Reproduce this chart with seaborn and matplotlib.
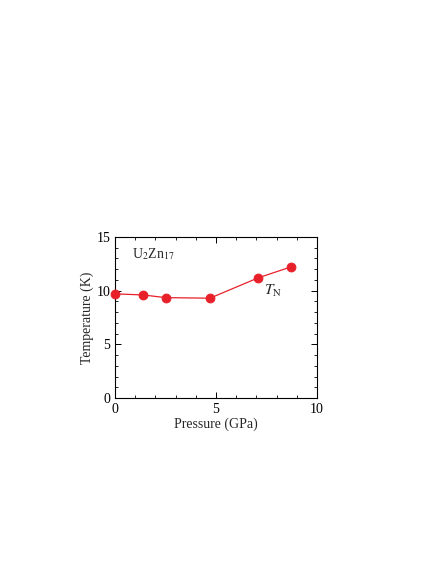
import matplotlib
matplotlib.use("Agg")
import matplotlib.pyplot as plt
import numpy as np
import pandas as pd
import seaborn as sns
from matplotlib.ticker import MultipleLocator

pressure = [0.0, 1.4, 2.5, 4.7, 7.1, 8.7]
t_neel = [9.7, 9.6, 9.35, 9.3, 11.2, 12.2]
t_err = [0.15, 0.15, 0.3, 0.15, 0.15, 0.4]

RED = "#e8202a"

sns.set_style("ticks")
plt.rcParams["font.family"] = ["Liberation Serif", "DejaVu Serif"]
plt.rcParams["mathtext.fontset"] = "stix"

df = pd.DataFrame({"P": pressure, "T": t_neel, "err": t_err})

fig = plt.figure(figsize=(4.36, 5.64), dpi=100)
ax = fig.add_axes([0.264, 0.294, 0.463, 0.286])

eb = ax.errorbar(df["P"], df["T"], yerr=df["err"], fmt="none", ecolor=RED, elinewidth=1, capsize=0, zorder=2)
for c in eb.get_children():
    c.set_clip_on(False)
sns.lineplot(data=df, x="P", y="T", ax=ax, color=RED, linewidth=0.9, marker="o",
             markersize=6.3, markeredgecolor=RED, markerfacecolor=RED, zorder=3, clip_on=False)

ax.set_xlim(0, 10)
ax.set_ylim(0, 15)
ax.xaxis.set_major_locator(MultipleLocator(5))
ax.xaxis.set_minor_locator(MultipleLocator(1))
ax.yaxis.set_major_locator(MultipleLocator(5))
ax.yaxis.set_minor_locator(MultipleLocator(1))
ax.tick_params(which="both", direction="in", top=True, right=True, labelsize=10, colors="black")
ax.tick_params(which="major", length=4, width=0.7)
ax.tick_params(which="minor", length=2.5, width=0.6)
for s in ax.spines.values():
    s.set_linewidth(0.8)
    s.set_color("black")

ax.set_xlabel("Pressure (GPa)", fontsize=10, labelpad=1)
ax.set_ylabel("Temperature (K)", fontsize=10, labelpad=2)

ax.text(0.85, 13.4, r"U$_2$Zn$_{17}$", fontsize=10, va="center", ha="left")
ax.text(7.4, 10.0, r"$T_{\rm N}$", fontsize=11, va="center", ha="left")

fig.savefig("out.png", dpi=100)
